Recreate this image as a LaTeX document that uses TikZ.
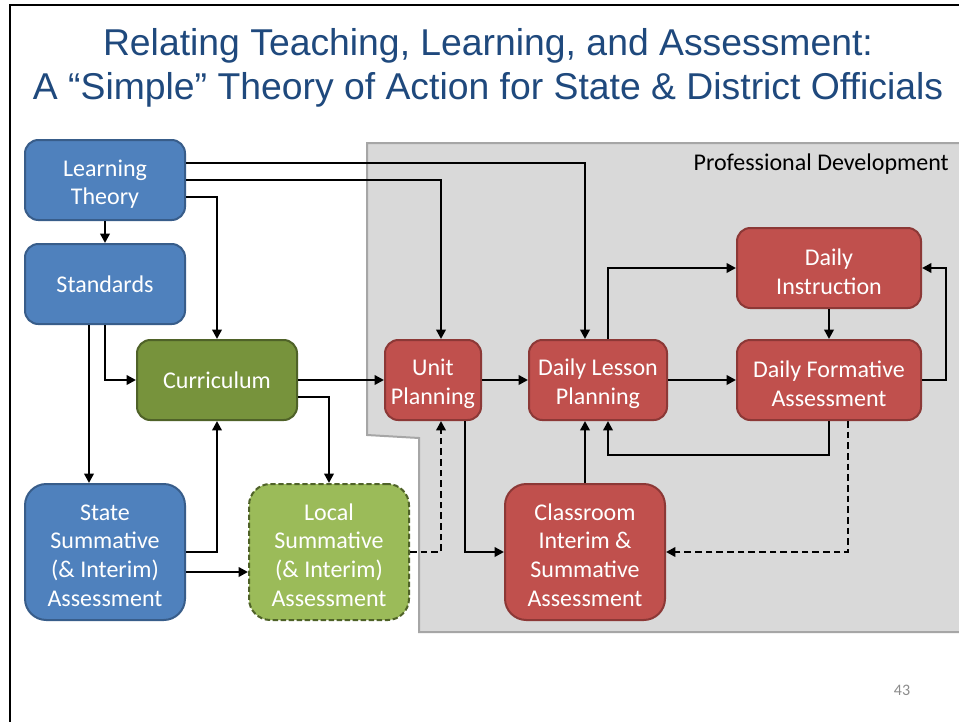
\documentclass[tikz,border=0pt]{standalone}
\usepackage{fontspec}
\setmainfont{Carlito}
\newfontfamily\titlefont{Liberation Sans}
\usetikzlibrary{arrows.meta}
\definecolor{blueF}{HTML}{4F81BD}
\definecolor{blueD}{HTML}{385D8A}
\definecolor{greenF}{HTML}{77933C}
\definecolor{greenD}{HTML}{4F6228}
\definecolor{lgreenF}{HTML}{9BBB59}
\definecolor{redF}{HTML}{C0504D}
\definecolor{redD}{HTML}{8C3836}
\definecolor{pdF}{HTML}{D9D9D9}
\definecolor{pdD}{HTML}{A6A6A6}
\definecolor{titleC}{HTML}{1F497D}
\definecolor{numC}{HTML}{8C8C8C}
% taller first line: lowers a block of several lines inside its box
\newcommand{\firstline}{\rule{0pt}{18.5pt}}
\newcommand{\firstlinetall}{\rule{0pt}{17pt}}
\tikzset{
  box/.style={draw, line width=1.5pt, text=white, align=center, inner sep=2pt,
    font=\fontsize{18}{21.6}\selectfont, rounded corners=10pt},
  tallbox/.style={box, minimum width=120pt, minimum height=102pt, rounded corners=16pt},
  bluebox/.style={box, fill=blueF, draw=blueD},
  greenbox/.style={box, fill=greenF, draw=greenD},
  lgreenbox/.style={box, fill=lgreenF, draw=greenD, dash pattern=on 4pt off 2pt},
  redbox/.style={box, fill=redF, draw=redD},
  arr/.style={line width=2.1pt, -{Triangle[length=7pt,width=7pt]}},
  darr/.style={arr, dash pattern=on 5pt off 3pt},
}
\begin{document}
\begin{tikzpicture}[x=0.75pt, y=-0.75pt]
\useasboundingbox (0,0) rectangle (959,721);
\clip (0,0) rectangle (959,721);
\fill[white] (0,0) rectangle (959,721);

% slide frame
\draw[line width=1.5pt] (10,730) -- (10,5) -- (970,5);

% title
\node[anchor=base, text=titleC, font=\titlefont\fontsize{28}{33}\selectfont] (t1) at (488,55)
  {Relating Teaching, Learning, and Assessment:};
\node[anchor=base, text=titleC, font=\titlefont\fontsize{28}{33}\selectfont] (t2) at (488,99)
  {A “Simple” Theory of Action for State \& District Officials};

% professional development area
\draw[fill=pdF, draw=pdD, line width=1.5pt]
  (367,143) -- (975,143) -- (975,632) -- (419,632) -- (419,438) -- (367,435) -- cycle;
\node[anchor=north east, inner sep=0pt, font=\fontsize{18}{21.6}\selectfont] (pd) at (949,154)
  {Professional Development};

% boxes
\node[bluebox, minimum width=120pt, minimum height=60pt] (lt) at (105,180) {\firstline Learning\\Theory};
\node[bluebox, minimum width=120pt, minimum height=60pt] (std) at (105,284) {Standards};
\node[greenbox, minimum width=120pt, minimum height=60pt] (cur) at (217,380) {Curriculum};
\node[bluebox, tallbox] (st) at (105,552) {\firstlinetall State\\Summative\\(\& Interim)\\Assessment};
\node[lgreenbox, tallbox] (loc) at (329,552) {\firstlinetall Local\\Summative\\(\& Interim)\\Assessment};
\node[redbox, minimum width=72pt, minimum height=60pt] (up) at (433,380) {\firstline Unit\\Planning};
\node[redbox, minimum width=103.5pt, minimum height=60pt] (dlp) at (598,380) {\firstline Daily Lesson\\Planning};
\node[redbox, minimum width=138pt, minimum height=60pt] (dfa) at (829,380) {\firstline Daily Formative\\Assessment};
\node[redbox, minimum width=138pt, minimum height=60pt] (di) at (829,268) {\firstline Daily\\Instruction};
\node[redbox, tallbox] (cls) at (585,552) {\firstlinetall Classroom\\Interim \&\\Summative\\Assessment};

% connectors
\draw[arr] (lt.south) -- (std.north);
\draw[arr] ([yshift=12.75pt]lt.east) -| ([xshift=-9.75pt]dlp.north);
\draw[arr] (lt.east) -| ([xshift=6pt]up.north);
\draw[arr] ([yshift=-12.75pt]lt.east) -| (cur.north);
\draw[arr] ([xshift=-12pt]std.south) -- ([xshift=-12pt]st.north);
\draw[arr] (std.south) |- (cur.west);
\draw[arr] (cur.east) -- (up.west);
\draw[arr] ([yshift=-12.75pt]cur.east) -| (loc.north);
\draw[arr] (st.east) -| (cur.south);
\draw[arr] ([yshift=-15pt]st.east) -- ([yshift=-15pt]loc.west);
\draw[darr] (loc.east) -| ([xshift=6pt]up.south);
\draw[arr] ([xshift=24pt]up.south) |- (cls.west);
\draw[arr] (up.east) -- (dlp.west);
\draw[arr] (dlp.east) -- (dfa.west);
\draw[arr] ([xshift=7.5pt]dlp.north) |- (di.west);
\draw[arr] (di.south) -- (dfa.north);
\draw[arr] (dfa.east) -- ++(24,0) |- (di.east);
\draw[arr] (dfa.south) -- ++(0,34) -| ([xshift=7.5pt]dlp.south);
\draw[darr] ([xshift=14.25pt]dfa.south) |- (cls.east);
\draw[arr] (cls.north) -- ([xshift=-9.75pt]dlp.south);

% slide number
\node[text=numC, font=\fontsize{12}{14}\selectfont] (num) at (902,690) {43};
\end{tikzpicture}
\end{document}
